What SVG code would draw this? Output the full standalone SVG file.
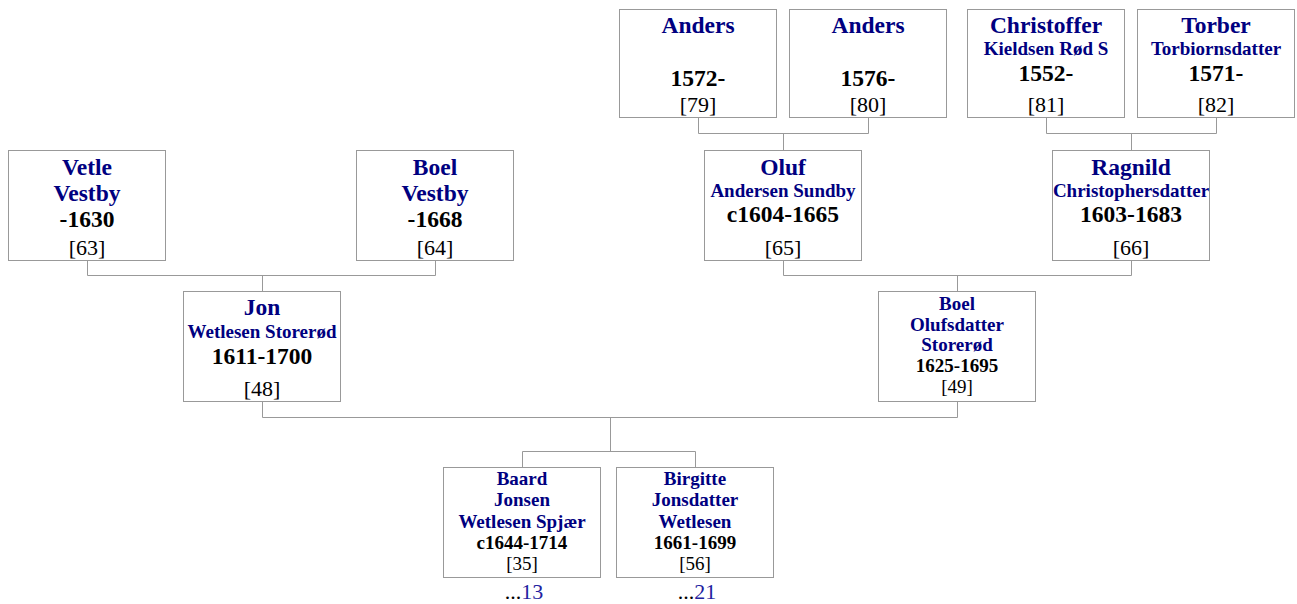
<svg xmlns="http://www.w3.org/2000/svg" width="1297" height="604" viewBox="0 0 1297 604">
<style>
.box{fill:#fff;stroke:#999;stroke-width:1}
.con{fill:none;stroke:#999;stroke-width:1}
text{font-family:"Liberation Serif","Times New Roman",serif;text-anchor:middle}
.nm{font-weight:bold;fill:#000080;font-size:23.5px}
.nm2{font-weight:bold;fill:#000080;font-size:19px}
.dt{font-weight:bold;fill:#000;font-size:23.5px}
.dt2{font-weight:bold;fill:#000;font-size:19px}
.id{fill:#000;font-size:22px}
.id2{fill:#000;font-size:19px}
.more{fill:#000;font-size:22px}
.lnk{fill:#2222a0}
</style>
<rect width="1297" height="604" fill="#fff"/>
<g id="connectors">
<path class="con" d="M698.5 117.5V133.5H868.5V117.5M783.5 133.5V150.5"/>
<path class="con" d="M1046.5 117.5V133.5H1216.5V117.5M1131.5 133.5V150.5"/>
<path class="con" d="M87.5 260.5V275.5H435.5V260.5M262.5 275.5V291.5"/>
<path class="con" d="M783.5 260.5V275.5H1131.5V260.5M957.5 275.5V291.5"/>
<path class="con" d="M262.5 401.5V417.5H957.5V401.5M610.5 417.5V451.5M522.5 467.5V451.5H695.5V467.5"/>
</g>
<g id="p79">
<rect class="box" x="619.5" y="9.5" width="157" height="108"/>
<text class="nm" x="698" y="33">Anders</text>
<text class="dt" x="698" y="86">1572-</text>
<text class="id" x="698" y="112">[79]</text>
</g>
<g id="p80">
<rect class="box" x="789.5" y="9.5" width="157" height="108"/>
<text class="nm" x="868" y="33">Anders</text>
<text class="dt" x="868" y="86">1576-</text>
<text class="id" x="868" y="112">[80]</text>
</g>
<g id="p81">
<rect class="box" x="967.5" y="9.5" width="157" height="108"/>
<text class="nm" x="1046" y="33">Christoffer</text>
<text class="nm2" x="1046" y="55">Kieldsen Rød S</text>
<text class="dt" x="1046" y="81">1552-</text>
<text class="id" x="1046" y="112">[81]</text>
</g>
<g id="p82">
<rect class="box" x="1137.5" y="9.5" width="157" height="108"/>
<text class="nm" x="1216" y="33">Torber</text>
<text class="nm2" x="1216" y="55">Torbiornsdatter</text>
<text class="dt" x="1216" y="81">1571-</text>
<text class="id" x="1216" y="112">[82]</text>
</g>
<g id="p63">
<rect class="box" x="8.5" y="150.5" width="157" height="110"/>
<text class="nm" x="87" y="175">Vetle</text>
<text class="nm" x="87" y="201">Vestby</text>
<text class="dt" x="87" y="227">-1630</text>
<text class="id" x="87" y="255">[63]</text>
</g>
<g id="p64">
<rect class="box" x="356.5" y="150.5" width="157" height="110"/>
<text class="nm" x="435" y="175">Boel</text>
<text class="nm" x="435" y="201">Vestby</text>
<text class="dt" x="435" y="227">-1668</text>
<text class="id" x="435" y="255">[64]</text>
</g>
<g id="p65">
<rect class="box" x="704.5" y="150.5" width="157" height="110"/>
<text class="nm" x="783" y="175">Oluf</text>
<text class="nm2" x="783" y="197">Andersen Sundby</text>
<text class="dt" x="783" y="222">c1604-1665</text>
<text class="id" x="783" y="255">[65]</text>
</g>
<g id="p66">
<rect class="box" x="1052.5" y="150.5" width="157" height="110"/>
<text class="nm" x="1131" y="175">Ragnild</text>
<text class="nm2" x="1131" y="197">Christophersdatter</text>
<text class="dt" x="1131" y="222">1603-1683</text>
<text class="id" x="1131" y="255">[66]</text>
</g>
<g id="p48">
<rect class="box" x="183.5" y="291.5" width="157" height="110"/>
<text class="nm" x="262" y="315">Jon</text>
<text class="nm2" x="262" y="338">Wetlesen Storerød</text>
<text class="dt" x="262" y="364">1611-1700</text>
<text class="id" x="262" y="396">[48]</text>
</g>
<g id="p49">
<rect class="box" x="878.5" y="291.5" width="157" height="110"/>
<text class="nm2" x="957" y="310">Boel</text>
<text class="nm2" x="957" y="331">Olufsdatter</text>
<text class="nm2" x="957" y="351">Storerød</text>
<text class="dt2" x="957" y="372">1625-1695</text>
<text class="id2" x="957" y="393">[49]</text>
</g>
<g id="p35">
<rect class="box" x="443.5" y="467.5" width="157" height="110"/>
<text class="nm2" x="522" y="485">Baard</text>
<text class="nm2" x="522" y="506">Jonsen</text>
<text class="nm2" x="522" y="528">Wetlesen Spjær</text>
<text class="dt2" x="522" y="549">c1644-1714</text>
<text class="id2" x="522" y="570">[35]</text>
<text class="more" x="524" y="599">...<tspan class="lnk">13</tspan></text>
</g>
<g id="p56">
<rect class="box" x="616.5" y="467.5" width="157" height="110"/>
<text class="nm2" x="695" y="485">Birgitte</text>
<text class="nm2" x="695" y="506">Jonsdatter</text>
<text class="nm2" x="695" y="528">Wetlesen</text>
<text class="dt2" x="695" y="549">1661-1699</text>
<text class="id2" x="695" y="570">[56]</text>
<text class="more" x="697" y="599">...<tspan class="lnk">21</tspan></text>
</g>
</svg>
